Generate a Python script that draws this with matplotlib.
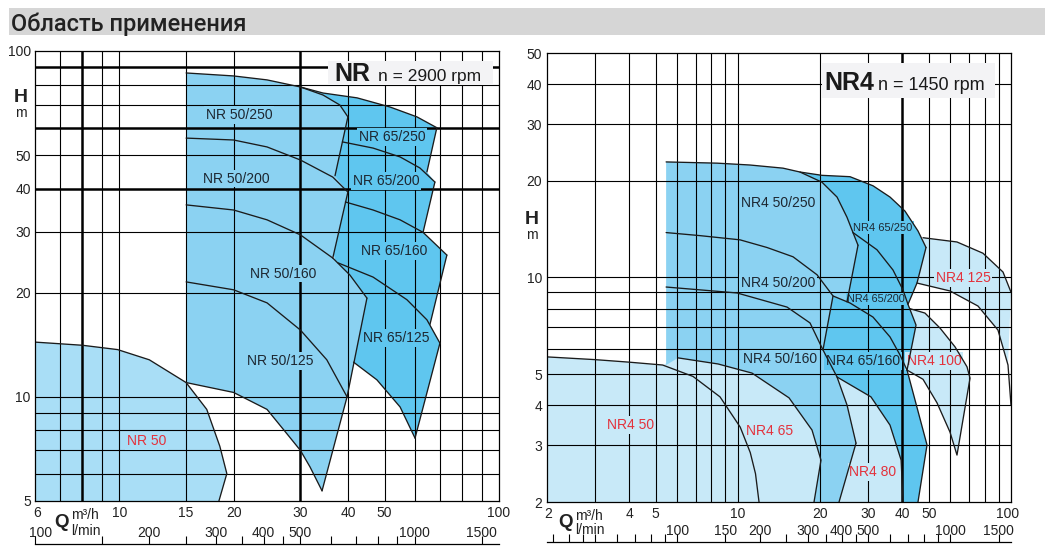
import matplotlib
matplotlib.use("Agg")
import matplotlib.pyplot as plt
import matplotlib.transforms as mtransforms
from matplotlib.patches import Rectangle
from matplotlib.ticker import NullLocator

# ====================== DATA (Q in m3/h, H in m) ======================
# ---- Left chart: NR, n = 2900 rpm ----
nr50_q = [6.0, 8.0, 9.9, 12.0, 15.0, 17.0, 18.4, 19.2, 18.3]
nr50_h = [14.4, 14.1, 13.7, 12.8, 11.0, 9.2, 7.2, 6.0, 5.0]
nr_top_q = [15.0, 20.0, 24.5, 30.0, 34.4, 42.3, 51.6, 60.8, 68.6]
nr_top_h = [86.4, 84.7, 82.5, 78.7, 75.6, 73.2, 68.9, 64.5, 60.0]
nr50_250_end_q = [30.0, 34.4, 38.1, 40.0]
nr50_250_end_h = [78.7, 74.6, 69.8, 64.5]
nr50_250_edge_q = [40.0, 37.0]
nr50_250_edge_h = [64.5, 43.6]
nr50_200_q = [15.0, 20.0, 24.5, 30.0, 36.5, 40.0]
nr50_200_h = [56.0, 55.3, 52.8, 48.4, 43.2, 39.1]
nr50_200_edge_q = [40.0, 36.5]
nr50_200_edge_h = [39.1, 25.2]
nr50_160_q = [15.0, 20.0, 24.5, 30.0, 36.5, 40.5, 44.9]
nr50_160_h = [35.9, 34.7, 32.5, 29.4, 25.2, 22.5, 19.3]
nr50_160_edge_q = [44.9, 39.8]
nr50_160_edge_h = [19.3, 10.0]
nr50_125_q = [15.0, 20.0, 24.5, 30.0, 35.2, 39.8]
nr50_125_h = [21.5, 20.4, 18.7, 15.6, 12.8, 10.0]
nr50_125_edge_q = [39.8, 34.2]
nr50_125_edge_h = [10.0, 5.35]
nr50_125_min_q = [15.0, 20.0, 24.5, 28.1, 30.0, 31.8, 34.2]
nr50_125_min_h = [11.0, 10.3, 9.2, 7.65, 7.0, 6.27, 5.35]
nr65_250_edge_q = [68.6, 64.6]
nr65_250_edge_h = [60.0, 44.7]
nr65_200_q = [38.7, 46.6, 54.9, 61.9, 67.8]
nr65_200_h = [54.6, 52.4, 49.4, 45.9, 41.8]
nr65_200_edge_q = [67.8, 63.1]
nr65_200_edge_h = [41.8, 29.9]
nr65_160_q = [39.4, 46.6, 54.9, 63.1, 72.9]
nr65_160_h = [36.6, 34.7, 32.5, 29.9, 25.7]
nr65_160_edge_q = [72.9, 65.8]
nr65_160_edge_h = [25.7, 16.2]
nr65_125_q = [37.7, 46.6, 57.2, 64.6, 69.9]
nr65_125_h = [24.4, 22.2, 19.1, 16.7, 14.3]
nr65_125_edge_q = [69.9, 60.1]
nr65_125_edge_h = [14.3, 7.6]
nr65_125_min_q = [41.4, 47.7, 54.9, 60.1]
nr65_125_min_h = [12.6, 11.2, 9.35, 7.6]

# ---- Right chart: NR4, n = 1450 rpm ----
nr4_50_q = [2.0, 3.0, 4.0, 5.3, 6.85, 8.6, 10.2, 11.1, 11.6, 11.95]
nr4_50_h = [5.66, 5.55, 5.45, 5.34, 4.92, 4.25, 3.42, 2.85, 2.45, 2.0]
nr4_65_q = [6.04, 8.46, 11.26, 15.39, 18.68, 20.15, 19.0]
nr4_65_h = [5.62, 5.38, 5.04, 4.22, 3.35, 2.70, 2.0]
nr4_top_q = [5.46, 8.39, 11.07, 14.63, 16.88, 20.32, 25.73, 31.24, 36.06, 40.9, 45.65, 48.85]
nr4_top_h = [22.9, 22.7, 22.4, 21.9, 21.3, 20.8, 20.6, 19.3, 17.8, 16.1, 13.96, 12.4]
nr4_50_250_end_q = [16.88, 20.32, 23.07, 25.09, 26.39, 27.53]
nr4_50_250_end_h = [21.3, 19.8, 17.8, 15.4, 13.8, 12.6]
nr4_50_250_edge_q = [27.53, 25.09]
nr4_50_250_edge_h = [12.6, 8.40]
nr4_200_q = [5.46, 7.27, 10.18, 12.78, 15.92, 19.48, 22.30, 25.73, 31.24, 36.06, 39.22, 41.62]
nr4_200_h = [13.8, 13.5, 13.1, 12.4, 11.6, 10.2, 8.76, 8.33, 7.53, 6.53, 5.74, 5.15]
nr4_50_200_edge_q = [22.30, 20.49]
nr4_50_200_edge_h = [8.76, 5.95]
nr4_160_q = [5.46, 9.93, 15.13, 18.37, 20.49, 23.07, 25.09, 27.07]
nr4_160_h = [9.34, 8.95, 8.09, 7.22, 5.95, 4.90, 4.01, 3.05]
nr4_50_160_edge_q = [27.07, 23.46]
nr4_50_160_edge_h = [3.05, 2.0]
nr4_80_q = [23.07, 30.7, 36.06, 39.6, 40.24]
nr4_80_h = [4.90, 4.25, 3.47, 2.70, 2.0]
nr4_65_250_min_q = [26.39, 32.3, 36.98, 40.24, 41.96]
nr4_65_250_min_h = [13.8, 12.2, 10.55, 9.14, 8.25]
nr4_65_edge_q = [48.85, 45.27, 41.96, 44.9, 41.62, 49.26, 45.65]
nr4_65_edge_h = [12.4, 9.61, 8.25, 7.11, 5.15, 3.01, 2.0]
nr4_100_q = [42.6, 48.4, 54.96, 62.4, 69.02, 70.79, 63.42]
nr4_100_h = [8.0, 7.75, 6.96, 6.08, 5.27, 4.86, 2.80]
nr4_100_min_q = [41.62, 47.63, 53.6, 59.8, 63.42]
nr4_100_min_h = [5.15, 4.82, 4.07, 3.30, 2.80]
nr4_125_q = [47.63, 63.42, 78.96, 93.48, 100.0]
nr4_125_h = [13.3, 12.9, 11.9, 10.4, 9.0]
nr4_125_min_q = [45.27, 59.8, 75.7, 89.6, 97.5, 100.0]
nr4_125_min_h = [9.61, 9.08, 8.15, 6.86, 5.34, 4.0]

# ---- axes / tick values ----
left_yticks = [5, 10, 20, 30, 40, 50, 100]
right_yticks = [2, 3, 4, 5, 10, 20, 30, 40, 50]
left_q_labels = [6, 10, 15, 20, 30, 40, 50, 100]
right_q_labels = [2, 4, 5, 10, 20, 30, 40, 50, 100]
left_l_labels = [100, 200, 300, 400, 500, 1000, 1500]
right_l_labels = [100, 150, 200, 300, 400, 500, 1000, 1500]
left_l_ticks = [100, 150, 200, 250, 300, 350, 400, 450, 500, 600, 700, 800, 900, 1000, 1500]
right_l_ticks = [35, 40, 45, 50, 60, 70, 80, 90, 100, 150, 200, 250, 300, 350, 400,
                 450, 500, 600, 700, 800, 900, 1000, 1500]
left_vgrid = [7, 9, 10, 15, 20, 40, 50, 60, 70, 80, 90]
left_vgrid_bold = [8, 30]
left_hgrid = [6, 7, 8, 9, 10, 20, 30, 50, 70, 80]
left_hgrid_bold = [40, 60, 90]
right_vgrid = [3, 4, 5, 6, 7, 8, 9, 10, 20, 30, 50, 60, 70, 80, 90]
right_vgrid_bold = [40]
right_hgrid = [3, 4, 5, 6, 7, 8, 9, 10, 20, 30, 40]
right_hgrid_bold = []

# ====================== STYLE ======================
plt.rcParams['font.family'] = ['Liberation Sans', 'DejaVu Sans']
C_LIGHT_L = '#a9def6'
C_LIGHT_R = '#c8e9f8'
C_MED = '#8bd2f2'
C_DARK = '#5fc6ef'
C_LINE = '#1b1b1b'
C_RED = '#e3323c'
C_TXT = '#1d2731'

W, H = 1045, 555
fig = plt.figure(figsize=(W / 100, H / 100), dpi=100)


def fx(px):
    return px / W


def fy(py):
    return 1 - py / H


def q2l(q):
    return q * 1000.0 / 60.0


def l2q(l):
    return l * 60.0 / 1000.0


axL = fig.add_axes([fx(35), fy(501), (499 - 35) / W, (501 - 51) / H])
axR = fig.add_axes([fx(547), fy(502), (1011 - 547) / W, (502 - 53) / H])


def setup(ax, xlim, ylim, yticks, vthin, vbold, hthin, hbold, pad):
    ax.set_xscale('log')
    ax.set_yscale('log')
    ax.set_xlim(*xlim)
    ax.set_ylim(*ylim)
    ax.xaxis.set_major_locator(NullLocator())
    ax.xaxis.set_minor_locator(NullLocator())
    ax.set_yticks(yticks, [str(v) for v in yticks])
    ax.yaxis.set_minor_locator(NullLocator())
    ax.tick_params(axis='y', length=0, pad=pad, labelsize=10, labelcolor='#222222')
    for v in vthin:
        ax.axvline(v, color='k', lw=0.8, zorder=2)
    for v in vbold:
        ax.axvline(v, color='k', lw=1.8, zorder=2)
    for v in hthin:
        ax.axhline(v, color='k', lw=0.8, zorder=2)
    for v in hbold:
        ax.axhline(v, color='k', lw=1.8, zorder=2)
    for s in ax.spines.values():
        s.set_linewidth(0.9)
        s.set_zorder(5)


def fill(ax, q, h, c):
    ax.fill(q, h, color=c, lw=0, zorder=1)


def curve(ax, q, h):
    ax.plot(q, h, color=C_LINE, lw=0.95, zorder=3,
            solid_joinstyle='round', solid_capstyle='round')


def label(ax, q, h, s, fc, color=C_TXT, size=10):
    ax.text(q, h, s, ha='center', va='center', fontsize=size, color=color, zorder=2.5,
            bbox=dict(boxstyle='square,pad=0.12', fc=fc, ec='none'))


setup(axL, (6, 100), (5, 100), left_yticks, left_vgrid, left_vgrid_bold,
      left_hgrid, left_hgrid_bold, 3)
setup(axR, (2, 100), (2, 50), right_yticks, right_vgrid, right_vgrid_bold,
      right_hgrid, right_hgrid_bold, 3.5)

# ---------------- left fills ----------------
fill(axL, nr50_q + [6.0], nr50_h + [5.0], C_LIGHT_L)
fill(axL, nr_top_q[3:] + nr65_250_edge_q[1:] + nr65_200_q[-1:] + nr65_200_edge_q[1:]
     + nr65_160_q[-1:] + nr65_160_edge_q[1:] + nr65_125_q[-1:] + nr65_125_edge_q[1:]
     + nr65_125_min_q[::-1][1:] + [38.1, 33.8],
     nr_top_h[3:] + nr65_250_edge_h[1:] + nr65_200_h[-1:] + nr65_200_edge_h[1:]
     + nr65_160_h[-1:] + nr65_160_edge_h[1:] + nr65_125_h[-1:] + nr65_125_edge_h[1:]
     + nr65_125_min_h[::-1][1:] + [19.1, 51.7], C_DARK)
fill(axL, [15.0] + nr_top_q[:4] + nr50_250_end_q[1:] + nr50_250_edge_q[1:]
     + nr50_200_q[-1:] + nr50_200_edge_q[1:] + nr50_160_q[5:] + nr50_160_edge_q[1:]
     + nr50_125_edge_q[1:] + nr50_125_min_q[::-1],
     [11.0] + nr_top_h[:4] + nr50_250_end_h[1:] + nr50_250_edge_h[1:]
     + nr50_200_h[-1:] + nr50_200_edge_h[1:] + nr50_160_h[5:] + nr50_160_edge_h[1:]
     + nr50_125_edge_h[1:] + nr50_125_min_h[::-1], C_MED)

for q, h in [(nr50_q, nr50_h), (nr_top_q, nr_top_h), (nr50_250_end_q, nr50_250_end_h),
             (nr50_250_edge_q, nr50_250_edge_h), (nr50_200_q, nr50_200_h),
             (nr50_200_edge_q, nr50_200_edge_h), (nr50_160_q, nr50_160_h),
             (nr50_160_edge_q, nr50_160_edge_h), (nr50_125_q, nr50_125_h),
             (nr50_125_edge_q, nr50_125_edge_h), (nr50_125_min_q, nr50_125_min_h),
             (nr65_250_edge_q, nr65_250_edge_h), (nr65_200_q, nr65_200_h),
             (nr65_200_edge_q, nr65_200_edge_h), (nr65_160_q, nr65_160_h),
             (nr65_160_edge_q, nr65_160_edge_h), (nr65_125_q, nr65_125_h),
             (nr65_125_edge_q, nr65_125_edge_h), (nr65_125_min_q, nr65_125_min_h)]:
    curve(axL, q, h)

label(axL, 20.7, 65.3, 'NR 50/250', C_MED)
label(axL, 20.3, 42.7, 'NR 50/200', C_MED)
label(axL, 27.0, 22.7, 'NR 50/160', C_MED)
label(axL, 26.5, 12.7, 'NR 50/125', C_MED)
label(axL, 52.3, 56.4, 'NR 65/250', C_DARK)
label(axL, 50.4, 42.1, 'NR 65/200', C_DARK)
label(axL, 52.9, 26.4, 'NR 65/160', C_DARK)
label(axL, 53.5, 14.8, 'NR 65/125', C_DARK)
label(axL, 11.8, 7.45, 'NR 50', C_LIGHT_L, color=C_RED)

# ---------------- right fills ----------------
fill(axR, nr4_50_q[:4] + nr4_65_q + [2.0], nr4_50_h[:4] + nr4_65_h + [2.0], C_LIGHT_R)
fill(axR, nr4_80_q + [21.0, 21.0], nr4_80_h + [2.0, 4.9], C_LIGHT_R)
fill(axR, nr4_100_q + nr4_100_min_q[::-1][1:], nr4_100_h + nr4_100_min_h[::-1][1:], C_LIGHT_R)
fill(axR, nr4_125_q + nr4_125_min_q[::-1][1:], nr4_125_h + nr4_125_min_h[::-1][1:], C_LIGHT_R)
fill(axR, nr4_top_q[4:] + nr4_65_edge_q[1:] + nr4_80_q[::-1] + [20.49, 19.0, 18.0],
     nr4_top_h[4:] + nr4_65_edge_h[1:] + nr4_80_h[::-1] + [5.95, 8.0, 18.0], C_DARK)
fill(axR, [5.46] + nr4_top_q[:5] + nr4_50_250_end_q[1:] + nr4_50_250_edge_q[1:]
     + nr4_50_200_edge_q + nr4_160_q[5:] + nr4_50_160_edge_q[1:] + nr4_65_q[::-1] + [5.46],
     [5.34] + nr4_top_h[:5] + nr4_50_250_end_h[1:] + nr4_50_250_edge_h[1:]
     + nr4_50_200_edge_h + nr4_160_h[5:] + nr4_50_160_edge_h[1:] + nr4_65_h[::-1] + [5.34],
     C_MED)

for q, h in [(nr4_50_q, nr4_50_h), (nr4_65_q, nr4_65_h), (nr4_top_q, nr4_top_h),
             (nr4_50_250_end_q, nr4_50_250_end_h), (nr4_50_250_edge_q, nr4_50_250_edge_h),
             (nr4_200_q, nr4_200_h), (nr4_50_200_edge_q, nr4_50_200_edge_h),
             (nr4_160_q, nr4_160_h), (nr4_50_160_edge_q, nr4_50_160_edge_h),
             (nr4_80_q, nr4_80_h), (nr4_65_250_min_q, nr4_65_250_min_h),
             (nr4_65_edge_q, nr4_65_edge_h),
             (nr4_100_q + nr4_100_min_q[::-1][1:], nr4_100_h + nr4_100_min_h[::-1][1:]),
             (nr4_125_q, nr4_125_h), (nr4_125_min_q, nr4_125_min_h)]:
    curve(axR, q, h)

label(axR, 14.1, 17.1, 'NR4 50/250', C_MED)
label(axR, 14.0, 9.61, 'NR4 50/200', C_MED)
label(axR, 14.3, 5.58, 'NR4 50/160', C_MED)
label(axR, 34.0, 14.3, 'NR4 65/250', C_DARK, size=8)
label(axR, 32.0, 8.57, 'NR4 65/200', C_DARK, size=7.8)
label(axR, 28.7, 5.50, 'NR4 65/160', C_DARK)
label(axR, 66.7, 9.96, 'NR4 125', C_LIGHT_R, color=C_RED)
label(axR, 52.2, 5.50, 'NR4 100', C_LIGHT_R, color=C_RED)
label(axR, 4.03, 3.47, 'NR4 50', C_LIGHT_R, color=C_RED)
label(axR, 13.1, 3.33, 'NR4 65', C_LIGHT_R, color=C_RED)
label(axR, 31.2, 2.48, 'NR4 80', C_LIGHT_R, color=C_RED)


# ---------------- x labels (two rows) ----------------
def xrow(ax, values, base_py, bottom_py, height_px, shifts, ha_map, conv=None):
    tr = mtransforms.blended_transform_factory(ax.transData, ax.transAxes)
    y = (bottom_py - base_py) / height_px
    for v in values:
        q = conv(v) if conv else v
        dx = shifts.get(v, 0)
        t = mtransforms.offset_copy(tr, fig=fig, x=dx, y=0, units='dots')
        ax.text(q, y, str(v), transform=t, ha=ha_map.get(v, 'center'), va='baseline',
                fontsize=10, color='#222222', clip_on=False)


xrow(axL, left_q_labels, 517, 501, 450, {6: 2.5}, {})
xrow(axL, left_l_labels, 537, 501, 450, {100: 17}, {100: 'right'}, conv=l2q)
xrow(axR, right_q_labels, 518, 502, 449, {2: 1, 100: -3}, {})
xrow(axR, right_l_labels, 535, 502, 449, {}, {}, conv=l2q)

# secondary l/min scale lines
for ax, loc, ticks in [(axL, (501 - 544) / 450, left_l_ticks), (axR, (502 - 542) / 449, right_l_ticks)]:
    sec = ax.secondary_xaxis(loc, functions=(q2l, l2q))
    sec.set_xticks(ticks)
    sec.xaxis.set_minor_locator(NullLocator())
    sec.set_xticklabels([])
    sec.tick_params(axis='x', direction='in', length=6, width=0.8, color='k')
    sec.spines['bottom'].set_linewidth(0.9)

# axis titles
for xq, yq, xm, ym1, ym2 in [(54, 527, 71, 519, 535), (558, 527, 575, 520, 534)]:
    fig.text(fx(xq), fy(yq), 'Q', fontsize=13.5, fontweight='bold', color='#222222', va='baseline')
    fig.text(fx(xm), fy(ym1), 'm³/h', fontsize=10, color='#222222', va='baseline')
    fig.text(fx(xm), fy(ym2), 'l/min', fontsize=10, color='#222222', va='baseline')
for xh, yh, ym in [(21, 102, 117), (532, 224, 239)]:
    fig.text(fx(xh), fy(yh), 'H', fontsize=14, fontweight='bold', color='#222222',
             ha='center', va='baseline')
    fig.text(fx(xh), fy(ym), 'm', fontsize=10, color='#222222', ha='center', va='baseline')

# speed boxes
fig.add_artist(Rectangle((fx(328), fy(85)), (493 - 328) / W, (85 - 61) / H,
                         transform=fig.transFigure, fc='#f3f3f5', ec='none', zorder=5))
fig.text(fx(334), fy(81), 'NR', fontsize=18, fontweight='bold', color='#1a1a1a', zorder=6)
fig.text(fx(378), fy(81), 'n = 2900 rpm', fontsize=12.5, color='#1a1a1a', zorder=6)
fig.add_artist(Rectangle((fx(822), fy(98)), (995 - 822) / W, (98 - 63) / H,
                         transform=fig.transFigure, fc='#f3f3f5', ec='none', zorder=5))
fig.text(fx(824), fy(90), 'NR4', fontsize=18, fontweight='bold', color='#1a1a1a', zorder=6)
fig.text(fx(878), fy(90), 'n = 1450 rpm', fontsize=13, color='#1a1a1a', zorder=6)

# title bar
fig.add_artist(Rectangle((fx(9), fy(35)), (W - 9) / W, (35 - 8) / H,
                         transform=fig.transFigure, fc='#d6d6d6', ec='none', zorder=5))
fig.text(fx(11), fy(31), 'Область применения', fontsize=17, color='#222222',
         family=['Roboto', 'Liberation Sans', 'DejaVu Sans'], fontweight='medium',
         va='baseline', zorder=6)

fig.savefig('out.png', dpi=100)
